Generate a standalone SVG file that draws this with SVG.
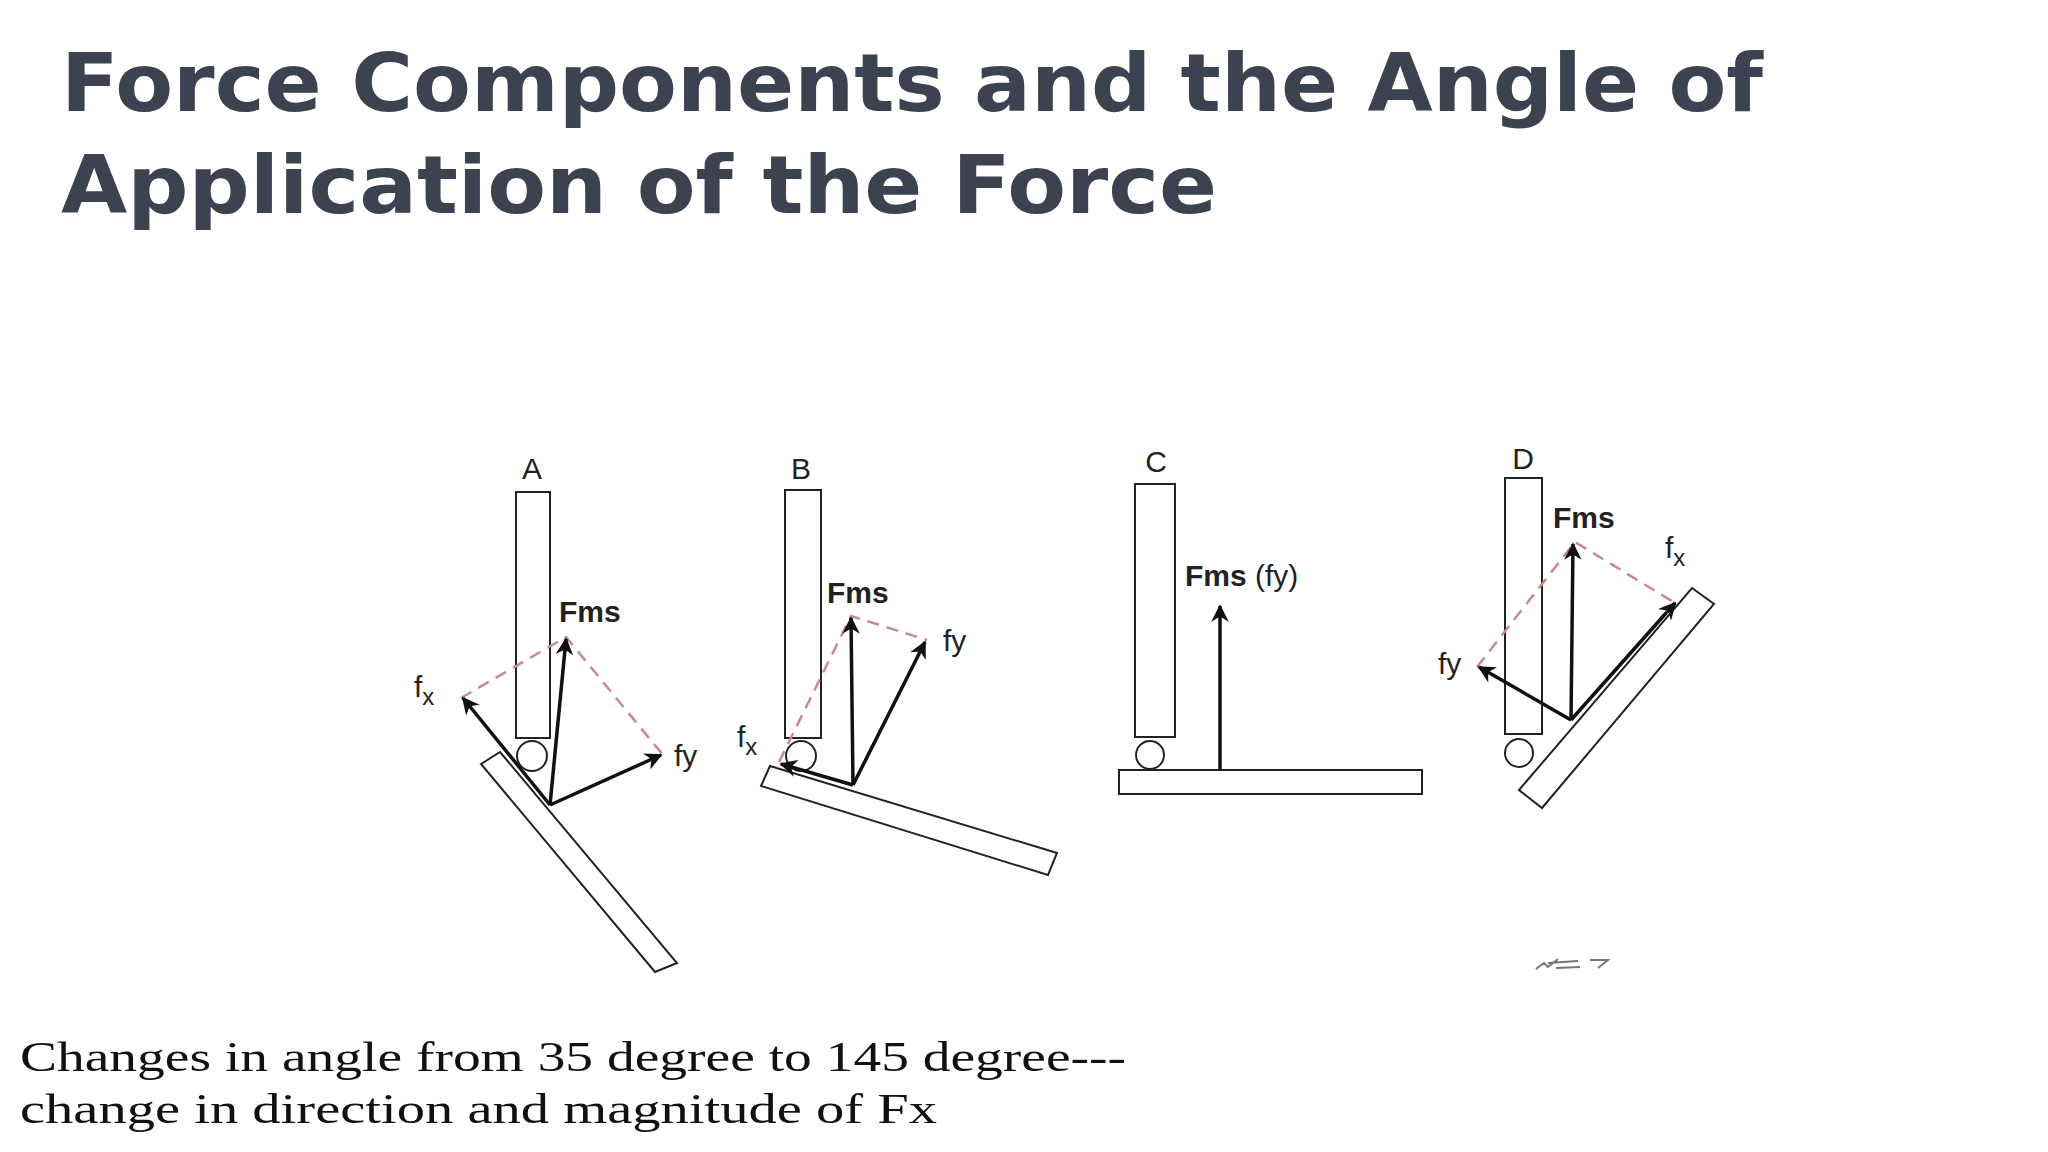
<svg xmlns="http://www.w3.org/2000/svg" width="2048" height="1152" viewBox="0 0 2048 1152">
<defs>
<marker id="ah" viewBox="0 0 10 10" refX="9" refY="5" markerWidth="5" markerHeight="5" orient="auto-start-reverse" markerUnits="strokeWidth"><path d="M0,0 L10,5 L0,10 L3,5 z" fill="#111"/></marker>
<style>
.bar{fill:#fff;stroke:#222;stroke-width:2}
.arr{stroke:#111;stroke-width:3.5;fill:none;marker-end:url(#ah)}
.dash{stroke:#c98a8a;stroke-width:2.5;stroke-dasharray:12 8;fill:none}
.lbl{font-family:"Liberation Sans",Arial,sans-serif;font-size:30px;fill:#222}
.b{font-weight:bold}
.title{font-family:"DejaVu Sans",Verdana,sans-serif;font-weight:bold;font-size:80px;fill:#3d4250}
.cap{font-family:"Liberation Serif","Times New Roman",serif;font-size:43px;fill:#111}
</style>
</defs>
<rect width="2048" height="1152" fill="#fff"/>
<g id="title">
<text class="title" x="61" y="111" textLength="1702" lengthAdjust="spacingAndGlyphs">Force Components and the Angle of</text>
<text class="title" x="61" y="213" textLength="1156" lengthAdjust="spacingAndGlyphs">Application of the Force</text>
</g>
<g id="panelA">
<text class="lbl" x="532" y="479" text-anchor="middle">A</text>
<rect class="bar" x="516" y="492" width="34" height="246"/>
<circle class="bar" cx="532" cy="756" r="15"/>
<polygon class="bar" points="481,764 500,752 677,963 655,972"/>
<text class="lbl b" x="559" y="622">Fms</text>
<text class="lbl" x="414" y="697">f<tspan font-size="24" dy="8">x</tspan></text>
<text class="lbl" x="674" y="766">fy</text>
</g>
<g id="panelB">
<text class="lbl" x="801" y="479" text-anchor="middle">B</text>
<rect class="bar" x="785" y="490" width="36" height="248"/>
<circle class="bar" cx="801" cy="756" r="15"/>
<polygon class="bar" points="770,766 761,786 1048,875 1057,853"/>
<text class="lbl b" x="827" y="603">Fms</text>
<text class="lbl" x="737" y="747">f<tspan font-size="24" dy="8">x</tspan></text>
<text class="lbl" x="943" y="651">fy</text>
</g>
<g id="panelC">
<text class="lbl" x="1156" y="472" text-anchor="middle">C</text>
<rect class="bar" x="1135" y="484" width="40" height="253"/>
<circle class="bar" cx="1150" cy="755" r="14"/>
<rect class="bar" x="1119" y="770" width="303" height="24"/>
<text class="lbl b" x="1185" y="586">Fms <tspan font-weight="normal">(fy)</tspan></text>
</g>
<g id="panelD">
<text class="lbl" x="1523" y="469" text-anchor="middle">D</text>
<rect class="bar" x="1505" y="478" width="37" height="256"/>
<circle class="bar" cx="1519" cy="753" r="14"/>
<polygon class="bar" points="1692,588 1714,604 1542,808 1519,790"/>
<text class="lbl b" x="1553" y="528">Fms</text>
<text class="lbl" x="1665" y="558">f<tspan font-size="24" dy="8">x</tspan></text>
<text class="lbl" x="1438" y="674">fy</text>
<path d="M1536,969 l8,-6 l4,4 l10,-8 M1548,963 l30,-2 M1556,968 l24,-1 M1590,960 l18,0 l-10,8" stroke="#777" stroke-width="2" fill="none"/>
</g>
<g id="connectors">
<polyline class="dash" points="461,698 566,637 663,755"/>
<line class="arr" x1="550" y1="805" x2="566" y2="639"/>
<line class="arr" x1="550" y1="805" x2="463" y2="698"/>
<line class="arr" x1="550" y1="805" x2="661" y2="755"/>
<polyline class="dash" points="779,762 851,616 927,640"/>
<line class="arr" x1="853" y1="785" x2="851" y2="618"/>
<line class="arr" x1="853" y1="785" x2="925" y2="642"/>
<line class="arr" x1="853" y1="785" x2="781" y2="764"/>
<line class="arr" x1="1220" y1="770" x2="1220" y2="606"/>
<polyline class="dash" points="1477,667 1575,542 1675,603"/>
<line class="arr" x1="1571" y1="720" x2="1573" y2="544"/>
<line class="arr" x1="1571" y1="720" x2="1675" y2="603"/>
<line class="arr" x1="1571" y1="720" x2="1479" y2="667"/>
</g>
<g id="caption">
<text class="cap" x="20" y="1071" textLength="1106" lengthAdjust="spacingAndGlyphs">Changes in angle from 35 degree to 145 degree---</text>
<text class="cap" x="20" y="1123" textLength="917" lengthAdjust="spacingAndGlyphs">change in direction and magnitude of Fx</text>
</g>
</svg>
